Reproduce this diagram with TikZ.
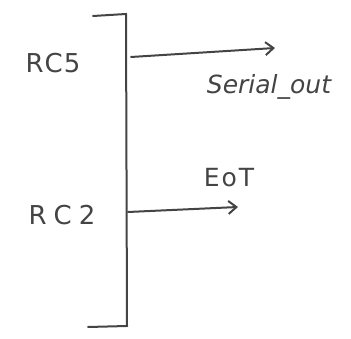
\documentclass[tikz,border=0pt]{standalone}
\usepackage{fontspec}
\setmainfont{DejaVu Sans}
\usetikzlibrary{arrows.meta}
\definecolor{ink}{HTML}{444444}
\begin{document}
\begin{tikzpicture}[x=1pt,y=-1pt,
  ink/.style={draw=ink,line width=2pt,line cap=round},
  sig/.style={ink,-{Straight Barb[length=8pt,width=13pt]}},
  lbl/.style={text=ink,inner sep=0pt,font=\fontsize{26}{30}\selectfont}]
\useasboundingbox (0,0) rectangle (351,339);
\coordinate (tl) at (93,16);
\coordinate (top) at (126,14);
\coordinate (bot) at (127,326);
\coordinate (bl) at (88,327);
\draw[ink] (tl) -- (top) -- (bot) -- (bl);
\coordinate (a1s) at (131,57);
\coordinate (a1e) at (275,48);
\coordinate (a2s) at (128,212);
\coordinate (a2e) at (238,207);
\draw[sig] (a1s) -- (a1e);
\draw[sig] (a2s) -- (a2e);
\node[lbl] (rc5) at (53,63) {R\kern1pt C\kern1pt 5};
\node[lbl] (rc2) at (62,215) {R\kern7pt C\kern7pt 2};
\node[lbl,font=\fontsize{25}{30}\selectfont\itshape] (so) at (269,87) {Serial\_out};
\node[lbl,font=\fontsize{25}{30}\selectfont] (eot) at (229,178) {E\kern2pt o\kern2pt T};
\end{tikzpicture}
\end{document}
